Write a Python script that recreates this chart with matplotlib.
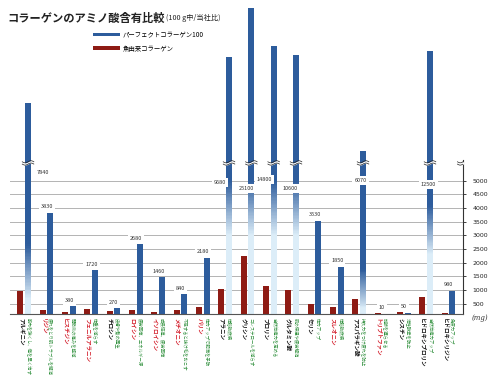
import numpy as np
import matplotlib
matplotlib.use('Agg')
import matplotlib.pyplot as plt
from matplotlib.colors import to_rgb

plt.rcParams['font.family'] = ['Noto Sans CJK JP', 'DejaVu Sans']

# ---------------- data ----------------
amino_acids = ['アルギニン', 'リジン', 'ヒスチジン', 'フェニルアラニン', 'チロシン',
               'ロイシン', 'イソロイシン', 'メチオニン', 'バリン', 'アラニン',
               'グリシン', 'プロリン', 'グルタミン酸', 'セリン', 'スレオニン',
               'アスパラギン酸', 'トリプトファン', 'シスチン', 'ヒドロキシプロリン',
               'ヒドロキシリジン']
essential = [False, True, True, True, False, True, True, True, True, False,
             False, False, False, False, True, False, True, False, False, False]
effects = ['筋肉を強くし、傷を早く治す', '疲れをとり肌トラブルを解消', '関節炎の痛みを軽減',
           '体重を減らす', '皮膚や髪の再生', '疲労回復、エネルギー源', '成長促進、疲労回復',
           '不足すると抜け毛をおこす', '体力アップで肥満を予防', '体脂肪燃焼',
           'コレステロールを減らす', '自然治癒力を高める', '肌の保湿や疲労解消',
           '体力アップ', '体脂肪燃焼', '持久力をつけ疲れを防止', '加齢を遅らせる',
           '活性酸素を防止', '自然治癒力アップ', '免疫力アップ']
perfect_collagen = [7840, 3830, 380, 1720, 270, 2680, 1460, 840, 2180, 9680,
                    25100, 14800, 10600, 3530, 1850, 6070, 10, 50, 12500, 980]
fish_collagen = [950, 180, 110, 240, 160, 210, 110, 170, 325, 1050,
                 2250, 1150, 1000, 500, 325, 660, 60, 80, 730, 50]
y_ticks = [500, 1000, 1500, 2000, 2500, 3000, 3500, 4000, 4500, 5000]
series_names = ['パーフェクトコラーゲン100', '魚由来コラーゲン']

# ---------------- style ----------------
BLUE = '#2d5c9c'
RED = '#8e1b14'
LIGHT = '#dcedf8'
GREEN = '#2f8f3c'
NAME_RED = '#d41f2c'
BREAK_V = 5650
# fade (light-bottom, full-blue) ranges for broken bars
fades = {0: (650, 2650), 9: (3000, 5000), 10: (3000, 5000), 11: (3000, 5000),
         12: (3000, 5000), 15: (300, 1750), 18: (2300, 4100)}
# label offsets (px) for broken-bar value labels, relative to (bar, 5000)
big_label_off = {0: (14.5, 8), 9: (-9, -2), 10: (-4.5, -8), 11: (-9, 1),
                 12: (-6, -8), 15: (-2.5, 0), 18: (-1.5, -4)}

# axis scale: compressed bottom segment and compressed top (broken) segment
V = np.array([0, 500, 9500, 15000, 26000, 30000], dtype=float)
H = np.array([0, 10.3, 256.3, 268, 309, 323.9])
fwd = lambda v: np.interp(v, V, H)
inv = lambda h: np.interp(h, H, V)

fig = plt.figure(figsize=(5, 3.75), dpi=100)
ax = fig.add_axes([0.02, 0.1627, 0.906, 0.8293])
ax.set_yscale('function', functions=(fwd, inv))
ax.set_ylim(0, 26537)

n = len(amino_acids)
x = np.arange(n)
w = 0.26
off = 0.172
PX = 72 / 100.0  # points per pixel

blue_bars = ax.bar(x + off, perfect_collagen, width=w, color=BLUE, zorder=2,
                   linewidth=0, label=series_names[0])
red_bars = ax.bar(x - off, fish_collagen, width=w, color=RED, zorder=2,
                  linewidth=0, label=series_names[1])

# gradient on broken bars
blue_rgb = np.array(to_rgb(BLUE))
light_rgb = np.array(to_rgb(LIGHT))
nseg = 40
for i, (lo, hi) in fades.items():
    xb = x[i] + off
    ax.bar(xb, lo, width=w * 1.02, bottom=0, color=LIGHT, zorder=2.1, linewidth=0)
    edges = np.linspace(lo, hi, nseg + 1)
    t = (np.arange(nseg) + 0.5) / nseg
    cols = light_rgb * (1 - t)[:, None] + blue_rgb * t[:, None]
    step = edges[1] - edges[0]
    ax.bar(np.full(nseg, xb), np.full(nseg, step * 1.6), bottom=edges[:-1],
           width=w * 1.02, color=cols, linewidth=0, zorder=2.1)


def draw_break(xc, half=0.26):
    xs = np.linspace(xc - half, xc + half, 40)
    wave = 38 * np.sin((xs - xc) / half * np.pi)
    top = BREAK_V + 42 + wave
    bot = BREAK_V - 42 + wave
    ax.fill_between(xs, bot, top, color='white', zorder=3.5, linewidth=0)
    ax.plot(xs, top, color='#222222', lw=0.5, zorder=3.6)
    ax.plot(xs, bot, color='#222222', lw=0.5, zorder=3.6)


for i, v in enumerate(perfect_collagen):
    if v > BREAK_V:
        draw_break(x[i] + off)

# value labels
for i, v in enumerate(perfect_collagen):
    if v > BREAK_V:
        dx, dy = big_label_off[i]
        ax.annotate(f'{v}', xy=(x[i] + off, 5000), xytext=(dx * PX, dy * PX),
                    textcoords='offset points', ha='center', va='center',
                    fontsize=4, color='#333333', zorder=5,
                    bbox=dict(boxstyle='square,pad=0.35', fc='white', ec='none'))
    else:
        ax.annotate(f'{v}', xy=(x[i] + off, v), xytext=(-3.5 * PX, 6 * PX),
                    textcoords='offset points', ha='center', va='center',
                    fontsize=4, color='#333333', zorder=5,
                    bbox=dict(boxstyle='square,pad=0.35', fc='white', ec='none'))

# category labels (vertical)
for i in range(n):
    ax.text(x[i] - off, -0.012, amino_acids[i], rotation=-90,
            transform=ax.get_xaxis_transform(), ha='center', va='top',
            fontsize=4.0, fontweight='bold',
            color=NAME_RED if essential[i] else '#111111')
    ax.text(x[i] + off, -0.012, effects[i], rotation=-90,
            transform=ax.get_xaxis_transform(), ha='center', va='top',
            fontsize=3.2, color=GREEN)

ax.set_xlim(-0.636, 19.65)
ax.set_xticks([])
ax.yaxis.tick_right()
ax.set_yticks(y_ticks)
ax.set_yticklabels([str(t) for t in y_ticks], fontsize=4.5, color='#222222',
                   family='DejaVu Sans')
ax.tick_params(axis='y', length=2, width=0.6, pad=5, colors='#222222')
ax.grid(axis='y', color='#b3b3b3', lw=0.7, zorder=0)
ax.set_axisbelow(True)
for s in ['left', 'top']:
    ax.spines[s].set_visible(False)
ax.spines['right'].set_bounds(0, 5750)
ax.spines['right'].set_color('#333333')
ax.spines['right'].set_linewidth(0.8)
ax.spines['bottom'].set_color('#555555')
ax.spines['bottom'].set_linewidth(0.8)
draw_break(ax.get_xlim()[1], half=0.25)
ax.set_xlim(-0.636, 19.65)

# title
title = fig.text(0.014, 0.952, 'コラーゲンのアミノ酸含有比較', fontsize=8.1,
                 fontweight='bold', color='#222222', ha='left', va='center')
fig.text(0.332, 0.952, '(100 g中/当社比)', fontsize=5.2, color='#222222',
         ha='left', va='center')

# legend
fig.legend(handles=[blue_bars, red_bars], labels=series_names,
           loc='upper left', bbox_to_anchor=(0.186, 0.918), frameon=False,
           fontsize=4.6, handlelength=4.3, handleheight=0.5, handletextpad=0.4,
           labelspacing=0.9, borderpad=0, borderaxespad=0)

fig.text(0.944, 1 - 318 / 375, '(mg)', fontsize=5, style='italic',
         family='DejaVu Serif', color='#333333', ha='left', va='center')

fig.savefig('out.png', dpi=100)
